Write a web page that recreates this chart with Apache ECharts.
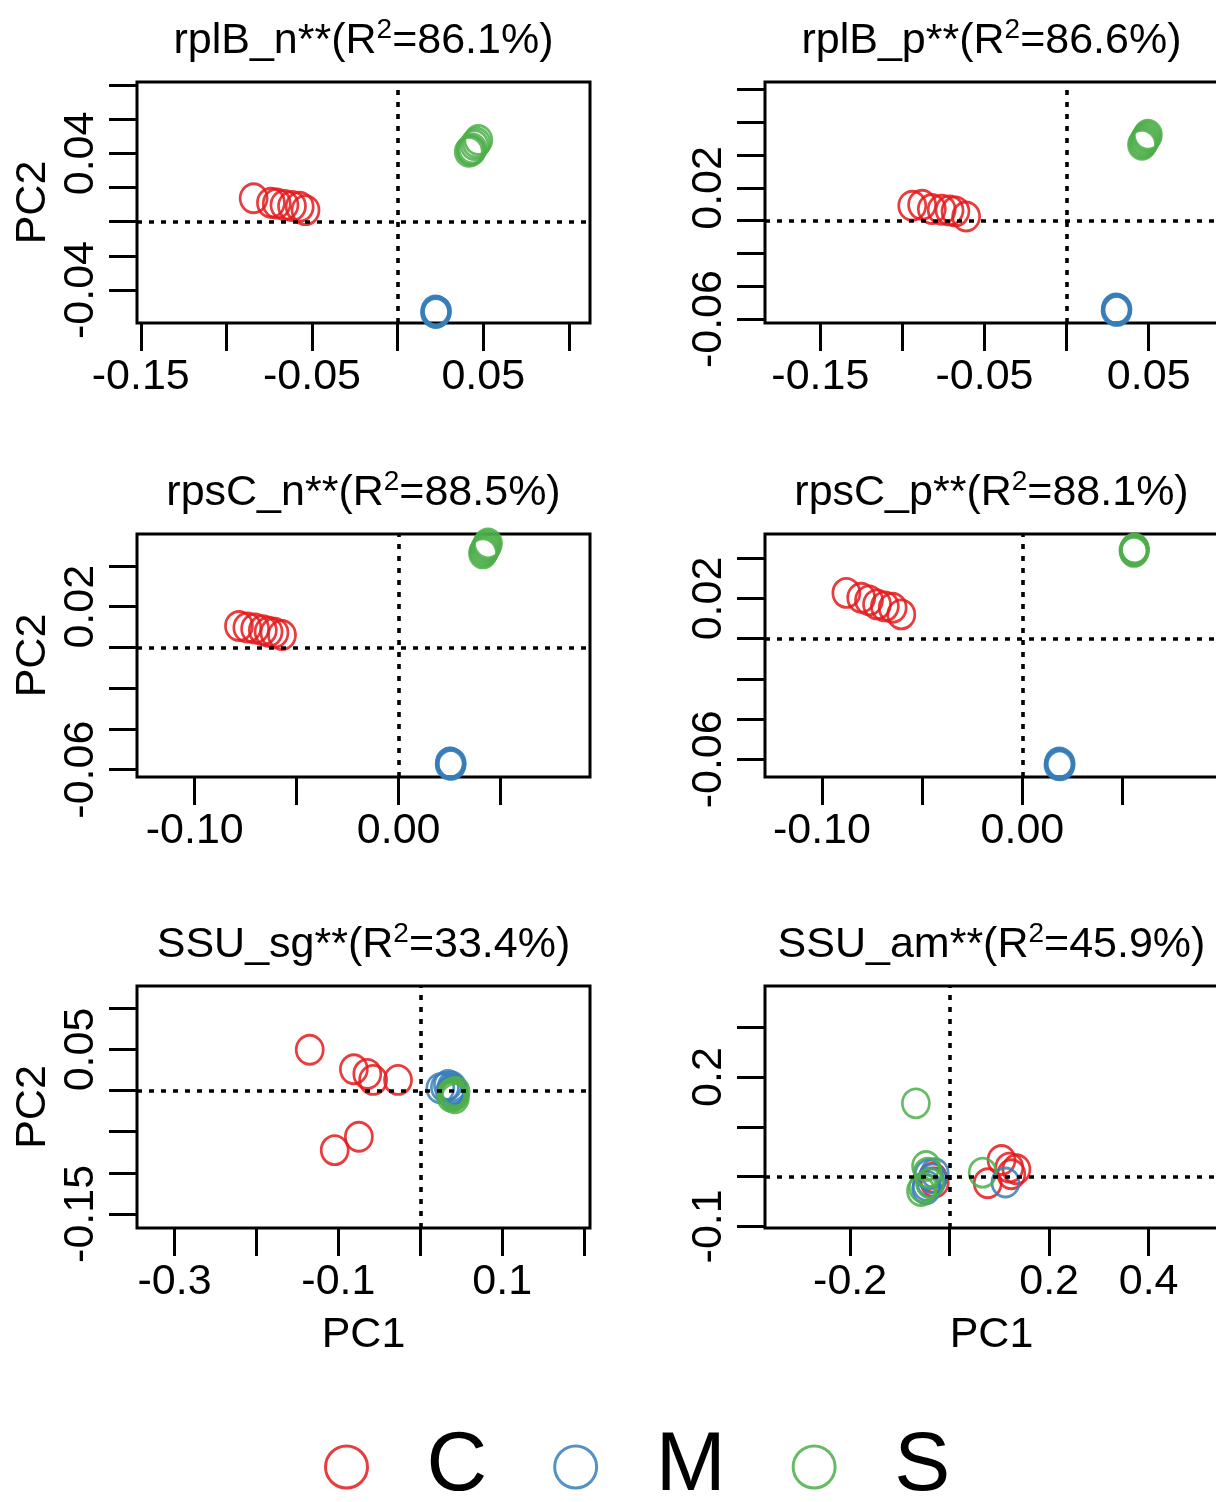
<!DOCTYPE html>
<html>
<head>
<meta charset="utf-8">
<script src="https://cdn.jsdelivr.net/npm/echarts@6/dist/echarts.min.js"></script>
<style>html,body{margin:0;padding:0;background:#fff}#chart{width:1216px;height:1502px}</style>
</head>
<body>
<div id="chart"></div>
<script>
// ---------- data ----------
const groups = ['C', 'M', 'S'];
const groupColors = ['#E41A1C', '#377EB8', '#4DAF4A'];
const panelNames = ['rplB_n', 'rplB_p', 'rpsC_n', 'rpsC_p', 'SSU_sg', 'SSU_am'];
const panelR2 = ['86.1', '86.6', '88.5', '88.1', '33.4', '45.9'];

// rplB_n
const rplB_n_C = [[-0.0841,0.0137],[-0.0740,0.0111],[-0.0706,0.0107],[-0.0661,0.0098],[-0.0617,0.0092],[-0.0572,0.0088],[-0.0538,0.0068]];
const rplB_n_M = [[0.0220,-0.0520],[0.0226,-0.0530],[0.0230,-0.0525],[0.0218,-0.0532],[0.0228,-0.0522],[0.0224,-0.0535],[0.0222,-0.0527]];
const rplB_n_S = [[0.0415,0.0410],[0.0425,0.0420],[0.0437,0.0429],[0.0448,0.0449],[0.0460,0.0462],[0.0471,0.0478],[0.0430,0.0415]];
const rplB_n_xRange = [-0.1522, 0.1123];
const rplB_n_yRange = [-0.0593, 0.0818];
const rplB_n_xTicks = [-0.15, -0.10, -0.05, 0, 0.05, 0.10];
const rplB_n_xLabels = ['-0.15', '-0.05', '0.05'];
const rplB_n_yTicks = [-0.04, -0.02, 0, 0.02, 0.04, 0.06, 0.08];
const rplB_n_yLabels = ['-0.04', '0.04'];

// rplB_p
const rplB_p_C = [[-0.0940,0.0091],[-0.0880,0.0097],[-0.0821,0.0071],[-0.0761,0.0067],[-0.0713,0.0063],[-0.0677,0.0057],[-0.0612,0.0026]];
const rplB_p_M = [[0.0300,-0.0535],[0.0306,-0.0545],[0.0310,-0.0540],[0.0298,-0.0548],[0.0304,-0.0538],[0.0308,-0.0550],[0.0302,-0.0542]];
const rplB_p_S = [[0.0459,0.0463],[0.0465,0.0472],[0.0471,0.0483],[0.0477,0.0493],[0.0483,0.0504],[0.0490,0.0515],[0.0495,0.0524]];
const rplB_p_xRange = [-0.1837, 0.0922];
const rplB_p_yRange = [-0.0624, 0.0846];
const rplB_p_xTicks = [-0.15, -0.10, -0.05, 0, 0.05];
const rplB_p_xLabels = ['-0.15', '-0.05', '0.05'];
const rplB_p_yTicks = [-0.06, -0.04, -0.02, 0, 0.02, 0.04, 0.06, 0.08];
const rplB_p_yLabels = ['-0.06', '0.02'];

// rpsC_n
const rpsC_n_C = [[-0.0783,0.0105],[-0.0742,0.0098],[-0.0704,0.0093],[-0.0666,0.0085],[-0.0638,0.0077],[-0.0609,0.0072],[-0.0572,0.0061]];
const rpsC_n_M = [[0.0251,-0.0565],[0.0257,-0.0572],[0.0260,-0.0568],[0.0250,-0.0575],[0.0255,-0.0570],[0.0259,-0.0576],[0.0253,-0.0566]];
const rpsC_n_S = [[0.0413,0.0462],[0.0417,0.0470],[0.0421,0.0478],[0.0425,0.0487],[0.0430,0.0495],[0.0434,0.0503],[0.0438,0.0511]];
const rpsC_n_xRange = [-0.1283, 0.0938];
const rpsC_n_yRange = [-0.0636, 0.0557];
const rpsC_n_xTicks = [-0.10, -0.05, 0, 0.05];
const rpsC_n_xLabels = ['-0.10', '0.00'];
const rpsC_n_yTicks = [-0.06, -0.04, -0.02, 0, 0.02, 0.04];
const rpsC_n_yLabels = ['-0.06', '0.02'];

// rpsC_p
const rpsC_p_C = [[-0.0878,0.0228],[-0.0804,0.0204],[-0.0765,0.0191],[-0.0725,0.0171],[-0.0686,0.0161],[-0.0647,0.0154],[-0.0604,0.0121]];
const rpsC_p_M = [[0.0182,-0.0618],[0.0188,-0.0626],[0.0191,-0.0620],[0.0180,-0.0628],[0.0186,-0.0623],[0.0190,-0.0630],[0.0184,-0.0616]];
const rpsC_p_S = [[0.0556,0.0436],[0.0560,0.0442],[0.0562,0.0446],[0.0554,0.0440],[0.0559,0.0449],[0.0557,0.0432],[0.0561,0.0438]];
const rpsC_p_xRange = [-0.1284, 0.0976];
const rpsC_p_yRange = [-0.0688, 0.0521];
const rpsC_p_xTicks = [-0.10, -0.05, 0, 0.05];
const rpsC_p_xLabels = ['-0.10', '0.00'];
const rpsC_p_yTicks = [-0.06, -0.04, -0.02, 0, 0.02, 0.04];
const rpsC_p_yLabels = ['-0.06', '0.02'];

// SSU_sg
const SSU_sg_C = [[-0.1350,0.0496],[-0.0811,0.0260],[-0.0647,0.0203],[-0.0576,0.0130],[-0.0272,0.0130],[-0.0750,-0.0561],[-0.1045,-0.0724]];
const SSU_sg_M = [[0.0244,0.0028],[0.0337,0.0069],[0.0408,0.0008],[0.0361,-0.0012],[0.0384,0.0049],[0.0300,0.0040],[0.0390,0.0020]];
const SSU_sg_S = [[0.0384,-0.0033],[0.0408,-0.0053],[0.0431,-0.0012],[0.0375,-0.0073],[0.0422,-0.0093],[0.0400,-0.0040],[0.0415,-0.0060]];
const SSU_sg_xRange = [-0.3458, 0.2071];
const SSU_sg_yRange = [-0.1671, 0.1272];
const SSU_sg_xTicks = [-0.3, -0.2, -0.1, 0, 0.1, 0.2];
const SSU_sg_xLabels = ['-0.3', '-0.1', '0.1'];
const SSU_sg_yTicks = [-0.15, -0.10, -0.05, 0, 0.05, 0.10];
const SSU_sg_yLabels = ['-0.15', '0.05'];

// SSU_am
const SSU_am_C = [[0.1043,0.0334],[0.1343,0.0147],[0.1240,0.0047],[0.0766,-0.0134],[0.1200,0.0181],[-0.0340,-0.0020],[-0.0300,-0.0120]];
const SSU_am_M = [[0.1122,-0.0120],[-0.0419,0.0047],[-0.0340,-0.0040],[-0.0458,-0.0187],[-0.0379,-0.0120],[-0.0474,-0.0254],[-0.0300,0.0067]];
const SSU_am_S = [[-0.0679,0.1472],[0.0664,0.0080],[-0.0474,0.0214],[-0.0442,0.0080],[-0.0537,-0.0221],[-0.0395,-0.0134],[-0.0577,-0.0288]];
const SSU_am_xRange = [-0.3712, 0.5395];
const SSU_am_yRange = [-0.1033, 0.3830];
const SSU_am_xTicks = [-0.2, 0, 0.2, 0.4];
const SSU_am_xLabels = ['-0.2', '0.2', '0.4'];
const SSU_am_yTicks = [-0.1, 0, 0.1, 0.2, 0.3];
const SSU_am_yLabels = ['-0.1', '0.2'];

// ---------- assembly ----------
const panels = [
  {C: rplB_n_C, M: rplB_n_M, S: rplB_n_S, xr: rplB_n_xRange, yr: rplB_n_yRange, xt: rplB_n_xTicks, xl: rplB_n_xLabels, yt: rplB_n_yTicks, yl: rplB_n_yLabels},
  {C: rplB_p_C, M: rplB_p_M, S: rplB_p_S, xr: rplB_p_xRange, yr: rplB_p_yRange, xt: rplB_p_xTicks, xl: rplB_p_xLabels, yt: rplB_p_yTicks, yl: rplB_p_yLabels},
  {C: rpsC_n_C, M: rpsC_n_M, S: rpsC_n_S, xr: rpsC_n_xRange, yr: rpsC_n_yRange, xt: rpsC_n_xTicks, xl: rpsC_n_xLabels, yt: rpsC_n_yTicks, yl: rpsC_n_yLabels},
  {C: rpsC_p_C, M: rpsC_p_M, S: rpsC_p_S, xr: rpsC_p_xRange, yr: rpsC_p_yRange, xt: rpsC_p_xTicks, xl: rpsC_p_xLabels, yt: rpsC_p_yTicks, yl: rpsC_p_yLabels},
  {C: SSU_sg_C, M: SSU_sg_M, S: SSU_sg_S, xr: SSU_sg_xRange, yr: SSU_sg_yRange, xt: SSU_sg_xTicks, xl: SSU_sg_xLabels, yt: SSU_sg_yTicks, yl: SSU_sg_yLabels},
  {C: SSU_am_C, M: SSU_am_M, S: SSU_am_S, xr: SSU_am_xRange, yr: SSU_am_yRange, xt: SSU_am_xTicks, xl: SSU_am_xLabels, yt: SSU_am_yTicks, yl: SSU_am_yLabels}
];

const FONT = '"Liberation Sans", Arial, Helvetica, sans-serif';
const FS = 43;
const boxes = [
  [137, 82, 453, 241], [765, 82, 453, 241],
  [137, 534, 453, 243], [765, 534, 453, 243],
  [137, 986, 453, 242], [765, 986, 453, 242]
];

function labelFormatter(strs) {
  const vals = strs.map(Number);
  return function (v) {
    const i = vals.findIndex(u => Math.abs(u - v) < 1e-9);
    return i >= 0 ? strs[i] : '';
  };
}

const grid = [], xAxis = [], yAxis = [], series = [], title = [];
panels.forEach((p, i) => {
  const b = boxes[i];
  grid.push({left: b[0], top: b[1], width: b[2], height: b[3], show: true,
    borderColor: '#000', borderWidth: 3, backgroundColor: 'transparent',
    containLabel: false, outerBoundsMode: 'none'});
  const tickStyle = {show: true, inside: false, length: 28, lineStyle: {color: '#000', width: 3}};
  xAxis.push({
    gridIndex: i, type: 'value', min: p.xr[0], max: p.xr[1], position: 'bottom',
    axisLine: {show: false, onZero: false}, splitLine: {show: false},
    axisTick: Object.assign({customValues: p.xt}, tickStyle),
    axisLabel: {customValues: p.xl.map(Number), formatter: labelFormatter(p.xl),
      fontSize: FS, color: '#000', fontFamily: FONT, margin: 33, hideOverlap: false},
    name: i >= 4 ? 'PC1' : '', nameLocation: 'middle', nameGap: 86,
    nameTextStyle: {fontSize: FS, color: '#000', fontFamily: FONT}
  });
  yAxis.push({
    gridIndex: i, type: 'value', min: p.yr[0], max: p.yr[1], position: 'left',
    axisLine: {show: false, onZero: false}, splitLine: {show: false},
    axisTick: Object.assign({customValues: p.yt}, tickStyle),
    axisLabel: {customValues: p.yl.map(Number), formatter: labelFormatter(p.yl), rotate: 90,
      fontSize: FS, color: '#000', fontFamily: FONT, margin: 34, hideOverlap: false},
    name: i % 2 === 0 ? 'PC2' : '', nameLocation: 'middle', nameGap: 82,
    nameTextStyle: {fontSize: FS, color: '#000', fontFamily: FONT}
  });
  groups.forEach((g, k) => {
    const s = {
      type: 'scatter', name: g, xAxisIndex: i, yAxisIndex: i,
      data: p[g], symbol: 'circle', symbolSize: [27, 29],
      itemStyle: {color: 'rgba(255,255,255,0)', borderColor: groupColors[k], borderWidth: 2.8, opacity: 0.85},
      emphasis: {disabled: true}, animation: false, z: 3
    };
    if (k === 0) {
      s.markLine = {
        silent: true, symbol: 'none', label: {show: false}, animation: false,
        lineStyle: {color: '#000', type: [5, 7], width: 3.6, opacity: 1},
        emphasis: {disabled: true},
        data: [{xAxis: 0}, {yAxis: 0}]
      };
    }
    series.push(s);
  });
  title.push({
    text: '{t|' + panelNames[i] + '**(R}{s|2}{t|=' + panelR2[i] + '%)}',
    left: b[0] + b[2] / 2, top: b[1] - 66, textAlign: 'center', padding: 0,
    textStyle: {fontSize: FS, fontWeight: 'normal', color: '#000', fontFamily: FONT,
      rich: {
        t: {fontSize: FS, fontWeight: 'normal', color: '#000', fontFamily: FONT, lineHeight: 50},
        s: {fontSize: 28, fontWeight: 'normal', color: '#000', fontFamily: FONT, lineHeight: 28, verticalAlign: 'top'}
      }}
  });
});

const chart = echarts.init(document.getElementById('chart'), null, {renderer: 'canvas'});
chart.setOption({
  backgroundColor: '#fff',
  animation: false,
  title: title,
  grid: grid,
  xAxis: xAxis,
  yAxis: yAxis,
  series: series,
  legend: {
    left: 324, top: 1425, orient: 'horizontal', padding: 0,
    itemWidth: 42, itemHeight: 42, itemGap: 66, icon: 'circle',
    data: groups.map((g, k) => ({name: g, itemStyle: {color: 'rgba(255,255,255,0)', borderColor: groupColors[k], borderWidth: 3}})),
    textStyle: {fontSize: 84, color: '#000', fontFamily: FONT, padding: [0, 0, 0, 54], width: 75, align: 'left'}
  }
});
</script>
</body>
</html>
